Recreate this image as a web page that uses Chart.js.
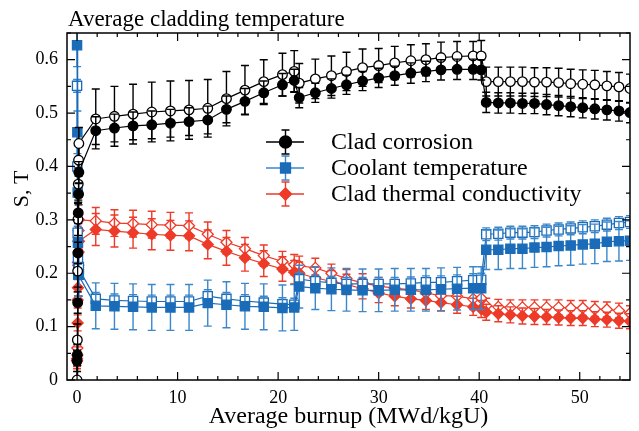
<!DOCTYPE html>
<html>
<head>
<meta charset="utf-8">
<script src="https://cdn.jsdelivr.net/npm/chart.js@4.4.1/dist/chart.umd.min.js"></script>
<style>
  html, body { margin: 0; padding: 0; background: #fff; }
  #wrap { width: 639px; height: 431px; }
</style>
</head>
<body>
<div id="wrap"><canvas id="sens-chart" width="639" height="431"></canvas></div>
<script>
// burnup steps (MWd/kgU): first few steps sit right at zero
var firstSteps = [0, 0.03, 0.06, 0.09, 0.12, 0.15, 0.18];
var burnup = [1.86, 3.72, 5.57, 7.43, 9.29, 11.14, 13.0, 14.86, 16.7, 18.57, 20.43, 21.6,
    22.1, 23.7, 25.3, 26.8, 28.4, 30.0, 31.6, 33.2, 34.7, 36.2, 37.8, 39.4, 40.2,
    40.7, 41.9, 43.1, 44.3, 45.5, 46.7, 47.9, 49.1, 50.3, 51.5, 52.7, 53.9, 55.0];

var xTicks = [0, 10, 20, 30, 40, 50];
var yTicks = [0, 0.1, 0.2, 0.3, 0.4, 0.5, 0.6];

var seriesNames = ["Clad corrosion", "Coolant temperature", "Clad thermal conductivity"];

// clad corrosion: S (filled) and T (open)
var corrosionS = [0.036, 0.047, 0.145, 0.238, 0.313, 0.348, 0.389,
    0.467, 0.472, 0.476, 0.478, 0.481, 0.484, 0.487, 0.507, 0.522, 0.538, 0.553, 0.561,
    0.529, 0.538, 0.546, 0.553, 0.560, 0.566, 0.570, 0.575, 0.578, 0.581, 0.582, 0.582, 0.581,
    0.520, 0.519, 0.519, 0.518, 0.518, 0.516, 0.514, 0.512, 0.510, 0.508, 0.506, 0.504, 0.501];
var corrosionSErr = [0.02, 0.02, 0.02, 0.02, 0.02, 0.02, 0.02,
    0.026, 0.026, 0.026, 0.026, 0.026, 0.026, 0.026, 0.025, 0.024, 0.022, 0.021, 0.021,
    0.019, 0.018, 0.018, 0.018, 0.018, 0.018, 0.018, 0.019, 0.019, 0.019, 0.019, 0.019, 0.019,
    0.019, 0.019, 0.019, 0.019, 0.019, 0.019, 0.019, 0.019, 0.019, 0.019, 0.019, 0.019, 0.019];
var corrosionT = [0.0, 0.075, 0.204, 0.301, 0.367, 0.412, 0.443,
    0.489, 0.494, 0.498, 0.502, 0.504, 0.506, 0.509, 0.527, 0.543, 0.559, 0.572, 0.578,
    0.556, 0.564, 0.570, 0.578, 0.585, 0.589, 0.594, 0.598, 0.600, 0.604, 0.606, 0.607, 0.607,
    0.559, 0.559, 0.559, 0.559, 0.558, 0.558, 0.557, 0.555, 0.554, 0.553, 0.551, 0.549, 0.546];
var corrosionTErr = [0.03, 0.03, 0.03, 0.03, 0.03, 0.03, 0.03,
    0.056, 0.056, 0.056, 0.056, 0.056, 0.055, 0.054, 0.051, 0.046, 0.041, 0.040, 0.039,
    0.037, 0.037, 0.037, 0.036, 0.035, 0.032, 0.031, 0.030, 0.030, 0.029, 0.028, 0.027, 0.029,
    0.027, 0.027, 0.027, 0.027, 0.027, 0.027, 0.027, 0.027, 0.027, 0.027, 0.027, 0.027, 0.027];

// coolant temperature
var coolantS = [0.627, 0.464, 0.351, 0.257, 0.197, 0.197, 0.197,
    0.139, 0.138, 0.137, 0.136, 0.136, 0.136, 0.144, 0.141, 0.138, 0.137, 0.135, 0.136,
    0.175, 0.172, 0.170, 0.169, 0.168, 0.168, 0.169, 0.169, 0.169, 0.170, 0.171, 0.172, 0.172,
    0.244, 0.244, 0.246, 0.246, 0.248, 0.249, 0.251, 0.252, 0.254, 0.255, 0.259, 0.260, 0.261];
var coolantSErr = [0.04, 0.04, 0.04, 0.04, 0.04, 0.04, 0.04,
    0.043, 0.043, 0.043, 0.043, 0.043, 0.043, 0.043, 0.043, 0.043, 0.043, 0.043, 0.043,
    0.040, 0.040, 0.040, 0.040, 0.040, 0.040, 0.040, 0.040, 0.040, 0.040, 0.040, 0.040, 0.040,
    0.037, 0.037, 0.037, 0.037, 0.037, 0.037, 0.037, 0.037, 0.037, 0.037, 0.037, 0.037, 0.037];
var coolantT = [0.551, 0.400, 0.276, 0.229, 0.210, 0.210, 0.210,
    0.152, 0.149, 0.148, 0.147, 0.147, 0.147, 0.157, 0.152, 0.148, 0.145, 0.142, 0.141,
    0.189, 0.185, 0.182, 0.180, 0.180, 0.180, 0.180, 0.181, 0.183, 0.183, 0.185, 0.187, 0.188,
    0.273, 0.274, 0.276, 0.276, 0.277, 0.280, 0.282, 0.284, 0.286, 0.288, 0.291, 0.294, 0.296];
var coolantTErr = [0.012, 0.012, 0.012, 0.012, 0.012, 0.012, 0.012,
    0.012, 0.012, 0.012, 0.012, 0.012, 0.012, 0.012, 0.012, 0.012, 0.012, 0.012, 0.012,
    0.012, 0.012, 0.012, 0.012, 0.012, 0.012, 0.012, 0.012, 0.012, 0.012, 0.012, 0.012, 0.012,
    0.012, 0.012, 0.012, 0.012, 0.012, 0.012, 0.012, 0.012, 0.012, 0.012, 0.012, 0.012, 0.012];

// clad thermal conductivity
var conductS = [0.036, 0.047, 0.107, 0.173, 0.215, 0.240, 0.260,
    0.282, 0.279, 0.276, 0.273, 0.271, 0.270, 0.254, 0.241, 0.229, 0.218, 0.208, 0.202,
    0.200, 0.191, 0.185, 0.179, 0.171, 0.163, 0.157, 0.152, 0.149, 0.145, 0.141, 0.137, 0.133,
    0.127, 0.124, 0.122, 0.120, 0.119, 0.118, 0.117, 0.116, 0.116, 0.114, 0.113, 0.111, 0.110];
var conductSErr = [0.015, 0.015, 0.015, 0.015, 0.015, 0.015, 0.015,
    0.030, 0.030, 0.029, 0.029, 0.028, 0.028, 0.027, 0.026, 0.025, 0.024, 0.023, 0.022,
    0.021, 0.020, 0.020, 0.019, 0.019, 0.018, 0.018, 0.017, 0.017, 0.016, 0.016, 0.016, 0.016,
    0.015, 0.015, 0.015, 0.015, 0.015, 0.014, 0.014, 0.014, 0.014, 0.014, 0.014, 0.014, 0.014];
var conductT = [0.040, 0.060, 0.150, 0.220, 0.260, 0.280, 0.300,
    0.298, 0.294, 0.293, 0.291, 0.290, 0.289, 0.273, 0.258, 0.246, 0.233, 0.222, 0.216,
    0.214, 0.210, 0.200, 0.190, 0.182, 0.176, 0.172, 0.169, 0.163, 0.158, 0.157, 0.152, 0.153,
    0.139, 0.137, 0.136, 0.136, 0.136, 0.136, 0.136, 0.135, 0.135, 0.133, 0.132, 0.130, 0.125];
var conductTErr = [0.015, 0.015, 0.015, 0.015, 0.015, 0.015, 0.015,
    0.025, 0.025, 0.025, 0.025, 0.024, 0.024, 0.023, 0.022, 0.021, 0.020, 0.019, 0.019,
    0.018, 0.018, 0.017, 0.017, 0.017, 0.016, 0.016, 0.016, 0.015, 0.015, 0.015, 0.015, 0.015,
    0.014, 0.014, 0.014, 0.014, 0.014, 0.014, 0.014, 0.014, 0.014, 0.014, 0.014, 0.014, 0.014];

var BLACK = "#000000";
var BLUE = "#1b6cb8";
var BLUE_BAR = "#3a87cc";
var RED = "#ee3a28";
var SERIF = "'Liberation Serif', 'Times New Roman', serif";

var allBurnup = firstSteps.concat(burnup);

function points(values) {
    var out = [];
    for (var i = 0; i < values.length; i++) {
        out.push({ x: allBurnup[i], y: values[i] });
    }
    return out;
}

function series(values, errors, color, barColor, style, radius, open) {
    return {
        data: points(values),
        errors: errors,
        barColor: barColor,
        showLine: true,
        borderColor: color,
        borderWidth: 1.2,
        backgroundColor: open ? "#ffffff" : color,
        pointStyle: style,
        pointRadius: radius,
        pointHoverRadius: radius,
        pointBorderWidth: 1.3,
        pointBorderColor: color,
        pointBackgroundColor: open ? "#ffffff" : color
    };
}

// vertical error bars, drawn just before each dataset so markers sit on top
var errorBars = {
    id: "errorBars",
    beforeDatasetDraw: function (chart, args) {
        var ds = chart.data.datasets[args.index];
        if (!ds.errors) return;
        var ctx = chart.ctx, a = chart.chartArea;
        var xs = chart.scales.x, ys = chart.scales.y;
        ctx.save();
        ctx.beginPath();
        ctx.rect(a.left, a.top, a.right - a.left, a.bottom - a.top);
        ctx.clip();
        ctx.strokeStyle = ds.barColor;
        ctx.lineWidth = 1.4;
        for (var i = 0; i < ds.data.length; i++) {
            var p = ds.data[i];
            var px = xs.getPixelForValue(p.x);
            var top = ys.getPixelForValue(p.y + ds.errors[i]);
            var bot = ys.getPixelForValue(p.y - ds.errors[i]);
            ctx.beginPath();
            ctx.moveTo(px, top); ctx.lineTo(px, bot);
            ctx.moveTo(px - 4, top); ctx.lineTo(px + 4, top);
            ctx.moveTo(px - 4, bot); ctx.lineTo(px + 4, bot);
            ctx.stroke();
        }
        ctx.restore();
    }
};

// box frame with inward ticks on all four sides, plus header, y label and legend
var frame = {
    id: "frame",
    afterDraw: function (chart) {
        var ctx = chart.ctx, a = chart.chartArea;
        var xs = chart.scales.x, ys = chart.scales.y;
        var v, p, len;
        ctx.save();
        ctx.strokeStyle = BLACK;
        ctx.lineWidth = 1.5;
        ctx.strokeRect(a.left, a.top, a.right - a.left, a.bottom - a.top);

        ctx.lineWidth = 1.2;
        ctx.beginPath();
        for (v = 0; v <= 55; v += 2) {
            p = xs.getPixelForValue(v);
            len = (v % 10 === 0) ? 8 : 4;
            ctx.moveTo(p, a.bottom); ctx.lineTo(p, a.bottom - len);
            ctx.moveTo(p, a.top); ctx.lineTo(p, a.top + len);
        }
        for (var k = 0; k <= 13; k++) {
            v = k * 0.05;
            p = ys.getPixelForValue(v);
            len = (k % 2 === 0) ? 8 : 4;
            ctx.moveTo(a.left, p); ctx.lineTo(a.left + len, p);
            ctx.moveTo(a.right, p); ctx.lineTo(a.right - len, p);
        }
        ctx.stroke();

        ctx.fillStyle = BLACK;
        ctx.font = "23px " + SERIF;
        ctx.textBaseline = "alphabetic";
        ctx.textAlign = "left";
        ctx.fillText("Average cladding temperature", a.left + 1, 26);

        ctx.font = "22px " + SERIF;
        ctx.save();
        ctx.translate(28, 189);
        ctx.rotate(-Math.PI / 2);
        ctx.textAlign = "center";
        ctx.fillText("S, T", 0, 0);
        ctx.restore();

        // legend
        var rows = [
            { y: 142, color: BLACK, bar: BLACK, style: "circle" },
            { y: 168, color: BLUE, bar: BLUE_BAR, style: "rect" },
            { y: 194, color: RED, bar: RED, style: "rectRot" }
        ];
        ctx.font = "24px " + SERIF;
        for (var r = 0; r < rows.length; r++) {
            var row = rows[r];
            ctx.strokeStyle = row.bar;
            ctx.lineWidth = 1.4;
            ctx.beginPath();
            ctx.moveTo(266, row.y); ctx.lineTo(304, row.y);
            ctx.moveTo(285.5, row.y - 12); ctx.lineTo(285.5, row.y + 12);
            ctx.moveTo(281.5, row.y - 12); ctx.lineTo(289.5, row.y - 12);
            ctx.moveTo(281.5, row.y + 12); ctx.lineTo(289.5, row.y + 12);
            ctx.stroke();
            ctx.fillStyle = row.color;
            ctx.strokeStyle = row.color;
            Chart.helpers.drawPoint(ctx, { pointStyle: row.style, radius: row.style === "rect" ? 7 : 6, borderWidth: 1 }, 285.5, row.y);
            ctx.fill();
            ctx.fillStyle = BLACK;
            ctx.fillText(seriesNames[r], 331, row.y + 7);
        }
        ctx.restore();
    }
};

var ctx = document.getElementById("sens-chart").getContext("2d");
var sensChart = new Chart(ctx, {
    type: "scatter",
    data: {
        datasets: [
            series(corrosionS, corrosionSErr, BLACK, BLACK, "circle", 4.8, false),
            series(corrosionT, corrosionTErr, BLACK, BLACK, "circle", 4.8, true),
            series(coolantS, coolantSErr, BLUE, BLUE_BAR, "rect", 6.5, false),
            series(coolantT, coolantTErr, BLUE, BLUE_BAR, "rect", 6.5, true),
            series(conductS, conductSErr, RED, RED, "rectRot", 5.5, false),
            series(conductT, conductTErr, RED, RED, "rectRot", 5.5, true)
        ]
    },
    options: {
        responsive: false,
        animation: false,
        devicePixelRatio: 1,
        layout: { padding: { left: 0, right: 9, top: 33, bottom: 0 } },
        plugins: {
            legend: { display: false },
            tooltip: { enabled: false }
        },
        scales: {
            x: {
                type: "linear",
                min: -1,
                max: 55,
                afterFit: function (s) { s.height = 51; },
                afterBuildTicks: function (s) {
                    s.ticks = xTicks.map(function (v) { return { value: v }; });
                },
                grid: { display: false, drawTicks: false },
                border: { display: false },
                ticks: { color: BLACK, padding: 7, font: { family: SERIF, size: 18 } },
                title: {
                    display: true,
                    text: "Average burnup (MWd/kgU)",
                    color: BLACK,
                    padding: { top: 0, bottom: 0 },
                    font: { family: SERIF, size: 24 }
                }
            },
            y: {
                min: 0,
                max: 0.65,
                afterFit: function (s) { s.width = 67; },
                afterBuildTicks: function (s) {
                    s.ticks = yTicks.map(function (v) { return { value: v }; });
                },
                grid: { display: false, drawTicks: false },
                border: { display: false },
                ticks: {
                    color: BLACK,
                    padding: 9,
                    font: { family: SERIF, size: 18 },
                    callback: function (v) { return String(+v.toFixed(2)); }
                }
            }
        }
    },
    plugins: [errorBars, frame]
});
</script>
</body>
</html>
